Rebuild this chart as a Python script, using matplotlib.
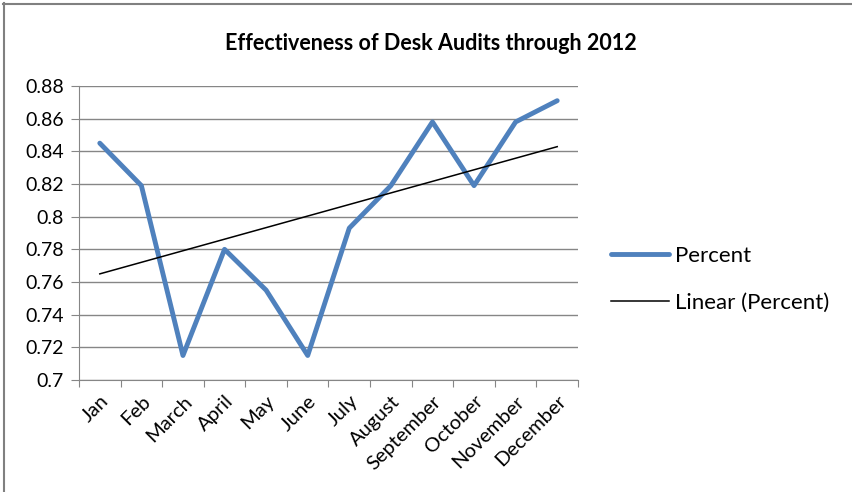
import numpy as np
import matplotlib.pyplot as plt
from matplotlib.lines import Line2D

months = ['Jan', 'Feb', 'March', 'April', 'May', 'June', 'July',
          'August', 'September', 'October', 'November', 'December']
percent = [0.845, 0.819, 0.715, 0.780, 0.755, 0.715, 0.793,
           0.819, 0.858, 0.819, 0.858, 0.871]
yticks = [0.7, 0.72, 0.74, 0.76, 0.78, 0.8, 0.82, 0.84, 0.86, 0.88]
ylabels = ['0.7', '0.72', '0.74', '0.76', '0.78', '0.8', '0.82', '0.84', '0.86', '0.88']

plt.rcParams['font.family'] = ['Lato', 'DejaVu Sans']

fig = plt.figure(figsize=(8.52, 4.92), dpi=100)
ax = fig.add_axes([79 / 852, 1 - 380 / 492, 499 / 852, 294 / 492])

x = np.arange(1, 13)
ax.plot(x, percent, color='#4f81bd', linewidth=3.5, solid_capstyle='round',
        solid_joinstyle='round', zorder=3)

# linear trend like excel
k, b = np.polyfit(x, percent, 1)
ax.plot(x, k * x + b, color='black', linewidth=1.1, zorder=4)

ax.set_xlim(0.5, 12.5)
ax.set_ylim(0.7, 0.88)
ax.set_yticks(yticks)
ax.set_yticklabels(ylabels, fontsize=14)
ax.yaxis.grid(True, color='#868686', linewidth=1)
ax.set_axisbelow(True)

# ticks between categories, labels at centers
ax.set_xticks(np.arange(0.5, 13, 1))
ax.set_xticklabels([])
ax.set_xticks(x, minor=True)
ax.set_xticklabels(months, minor=True, rotation=45, ha='right',
                   rotation_mode='anchor', fontsize=14.5)
ax.tick_params(axis='x', which='minor', length=0, pad=9)
ax.tick_params(axis='x', which='major', length=5, direction='out', color='#868686')
ax.tick_params(axis='y', length=6, direction='out', color='#868686', pad=5)
for s in ['top', 'right']:
    ax.spines[s].set_visible(False)
for s in ['left', 'bottom']:
    ax.spines[s].set_color('#868686')

fig.text(431 / 852, 1 - 43 / 492, 'Effectiveness of Desk Audits through 2012',
         ha='center', va='center', fontsize=15.5, fontweight='bold')

handles = [Line2D([], [], color='#4f81bd', linewidth=3.5, solid_capstyle='round'),
           Line2D([], [], color='black', linewidth=1.1)]
fig.legend(handles, ['Percent', 'Linear (Percent)'], loc='center left',
           bbox_to_anchor=(591 / 852, 1 - 279.5 / 492), frameon=False,
           fontsize=16, handlelength=2.6, handletextpad=0.3, labelspacing=1.2)

# outer chart frame (top and left visible)
fig.add_artist(Line2D([3 / 852, 1], [1 - 3.5 / 492, 1 - 3.5 / 492], color='#808080', linewidth=1.5))
fig.add_artist(Line2D([3.5 / 852, 3.5 / 852], [0, 1 - 3 / 492], color='#808080', linewidth=1.5))

fig.savefig('out.png', dpi=100)
